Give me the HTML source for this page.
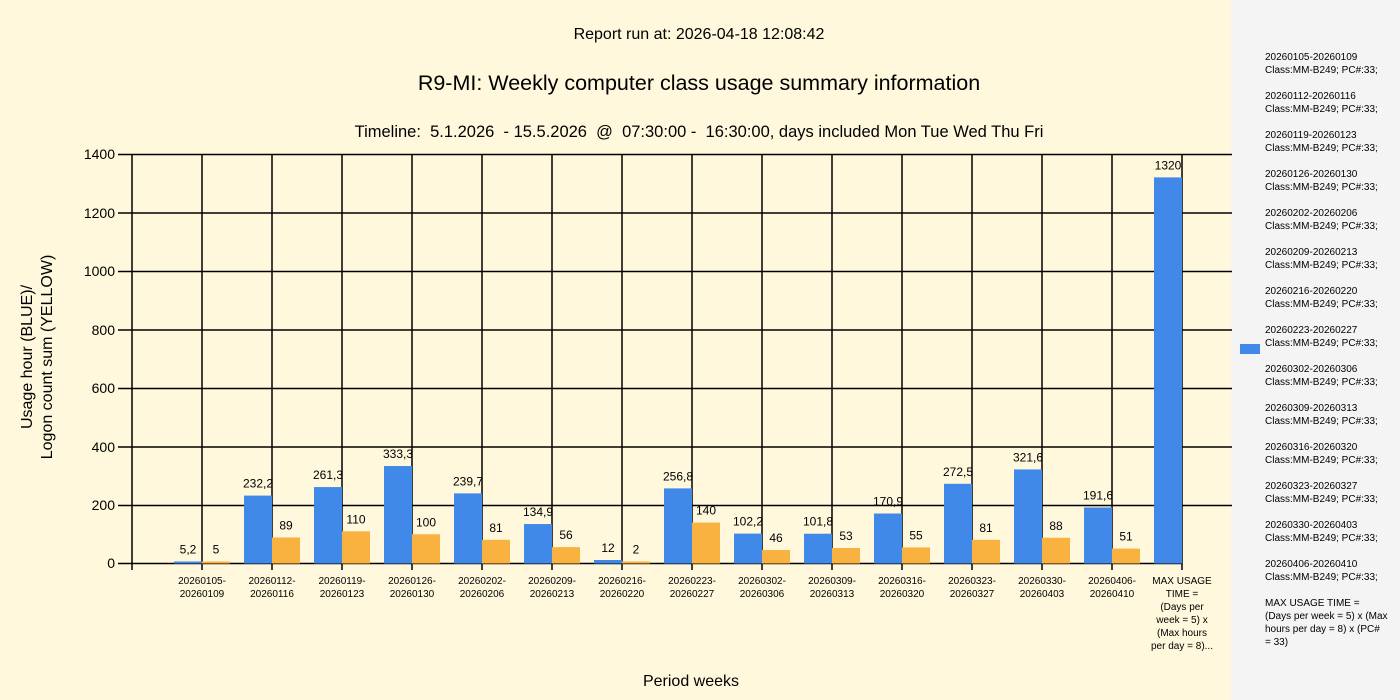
<!DOCTYPE html>
<html><head><meta charset="utf-8"><style>
body{margin:0;width:1400px;height:700px;overflow:hidden;background:#fff8dc;}
svg{display:block;font-family:"Liberation Sans",Arial,sans-serif;}
</style></head><body>
<svg width="1400" height="700" viewBox="0 0 1400 700">
<rect x="0" y="0" width="1400" height="700" fill="#fff8dc"/>
<rect x="1231" y="0" width="169" height="700" fill="#f4f4f4"/>
<g font-family="Liberation Sans, sans-serif" fill="#000" text-anchor="middle">
<text x="699" y="39" font-size="16">Report run at: 2026-04-18 12:08:42</text>
<text x="699" y="90" font-size="21.5">R9-MI: Weekly computer class usage summary information</text>
<text x="699" y="137" font-size="16.5" xml:space="preserve" style="white-space:pre">Timeline:  5.1.2026  - 15.5.2026  @  07:30:00 -  16:30:00, days included Mon Tue Wed Thu Fri</text>
<text x="691" y="686" font-size="16">Period weeks</text>
<g transform="translate(32,357) rotate(-90)" font-size="16"><text x="0" y="0">Usage hour (BLUE)/</text><text x="0" y="20">Logon count sum (YELLOW)</text></g>
</g>
<g stroke="#000" stroke-width="1.5" fill="none">
<line x1="118" y1="154.5" x2="1232" y2="154.5"/>
<line x1="118" y1="213" x2="1232" y2="213"/>
<line x1="118" y1="271.5" x2="1232" y2="271.5"/>
<line x1="118" y1="330" x2="1232" y2="330"/>
<line x1="118" y1="388.5" x2="1232" y2="388.5"/>
<line x1="118" y1="447" x2="1232" y2="447"/>
<line x1="118" y1="505.5" x2="1232" y2="505.5"/>
<line x1="118" y1="563.5" x2="1182" y2="563.5"/>
<line x1="132" y1="154" x2="132" y2="570"/>
<line x1="202" y1="154" x2="202" y2="570"/>
<line x1="272" y1="154" x2="272" y2="570"/>
<line x1="342" y1="154" x2="342" y2="570"/>
<line x1="412" y1="154" x2="412" y2="570"/>
<line x1="482" y1="154" x2="482" y2="570"/>
<line x1="552" y1="154" x2="552" y2="570"/>
<line x1="622" y1="154" x2="622" y2="570"/>
<line x1="692" y1="154" x2="692" y2="570"/>
<line x1="762" y1="154" x2="762" y2="570"/>
<line x1="832" y1="154" x2="832" y2="570"/>
<line x1="902" y1="154" x2="902" y2="570"/>
<line x1="972" y1="154" x2="972" y2="570"/>
<line x1="1042" y1="154" x2="1042" y2="570"/>
<line x1="1112" y1="154" x2="1112" y2="570"/>
<line x1="1182" y1="154" x2="1182" y2="570"/>
</g>
<g font-size="14" text-anchor="end" fill="#000">
<text x="115" y="159">1400</text><text x="115" y="218">1200</text><text x="115" y="276">1000</text>
<text x="115" y="335">800</text><text x="115" y="393">600</text><text x="115" y="452">400</text>
<text x="115" y="510">200</text><text x="115" y="568">0</text>
</g>
<g id="bars"></g>
<g id="cats" font-size="10" text-anchor="middle"></g>
<g font-size="10" text-anchor="middle">
<text x="1182" y="584">MAX USAGE</text><text x="1182" y="597">TIME =</text><text x="1182" y="610">(Days per</text>
<text x="1182" y="623">week = 5) x</text><text x="1182" y="636">(Max hours</text><text x="1182" y="649">per day = 8)...</text>
</g>
<rect x="1240" y="344" width="20" height="10" fill="#4189e8"/>
<g id="leg" font-size="10"></g>
<g font-size="10">
<text x="1265" y="606">MAX USAGE TIME =</text><text x="1265" y="619"> (Days per week = 5) x (Max</text>
<text x="1265" y="632">hours per day = 8) x (PC#</text><text x="1265" y="645">= 33)</text>
</g>
</svg>
<script>
var ns="http://www.w3.org/2000/svg";
var u=[5.2,232.2,261.3,333.3,239.7,134.9,12,256.8,102.2,101.8,170.9,272.5,321.6,191.6];
var c=[5,89,110,100,81,56,2,140,46,53,55,81,88,51];
var w=["20260105-20260109","20260112-20260116","20260119-20260123","20260126-20260130","20260202-20260206","20260209-20260213","20260216-20260220","20260223-20260227","20260302-20260306","20260309-20260313","20260316-20260320","20260323-20260327","20260330-20260403","20260406-20260410"];
function el(t,a,p,txt){var e=document.createElementNS(ns,t);for(var k in a)e.setAttribute(k,a[k]);if(txt!=null)e.textContent=txt;document.getElementById(p).appendChild(e);}
var Y0=563.5,S=58.5/200;
function bar(x,v,col,lab){var h=v*S;if(h<2)h=2;el("rect",{x:x,y:Y0-h,width:28,height:h,fill:col},"bars");el("text",{x:x+14,y:Y0-h-8,"font-size":"12","text-anchor":"middle",fill:"#000"},"bars",lab);}
for(var i=0;i<14;i++){var cx=202+70*i;bar(cx-28,u[i],"#4189e8",String(u[i]).replace(".",","));bar(cx,c[i],"#f9b13f",String(c[i]));
var p=w[i].split("-");el("text",{x:cx,y:584},"cats",p[0]+"-");el("text",{x:cx,y:597},"cats",p[1]);
el("text",{x:1265,y:60+39*i},"leg",w[i]);el("text",{x:1265,y:73+39*i},"leg","Class:MM-B249; PC#:33;");}
bar(1154,1320,"#4189e8","1320");
</script>
</body></html>
